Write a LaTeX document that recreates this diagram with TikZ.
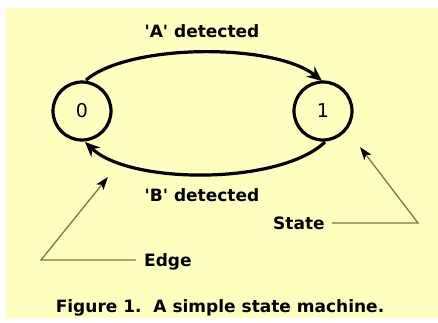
\documentclass[tikz,border=0pt]{standalone}
\usepackage{fontspec}
\setmainfont{DejaVu Sans}
\usetikzlibrary{arrows.meta}
\definecolor{bgyellow}{HTML}{FFFFC0}
\definecolor{pointer}{HTML}{857540}
\begin{document}
\begin{tikzpicture}[x=1pt,y=-1pt,
  state/.style={circle,draw=black,line width=3.2pt,minimum size=58pt,inner sep=0pt,
    font=\fontsize{19}{19}\selectfont},
  lbl/.style={font=\bfseries\fontsize{17}{17}\selectfont,inner sep=0pt},
  edgeline/.style={line width=3.2pt,-{Stealth[length=15pt,width=13pt,inset=5pt]}},
  ptr/.style={draw=pointer,line width=1.3pt},
  ptrarrow/.style={ptr,-{Stealth[length=13pt,width=9pt,inset=3pt,color=black]}}]
\useasboundingbox (0,0) rectangle (438,322);
\fill[white] (0,0) rectangle (438,322);
\fill[bgyellow] (6,8) rectangle (438,318);

\node[state] (s0) at (82,111) {0};
\node[state] (s1) at (323,111) {1};

\coordinate (a0) at (86,80);
\coordinate (a1) at (322,81);
\coordinate (b0) at (325,142);
\coordinate (b1) at (85,142);
\draw[edgeline] (a0) .. controls (130,43) and (275,43) .. (a1);
\draw[edgeline] (b0) .. controls (280,185) and (130,185) .. (b1);

\node[lbl,anchor=base] (la) at (202,37) {\textquotesingle A\textquotesingle\ detected};
\node[lbl,anchor=base] (lb) at (202,201) {\textquotesingle B\textquotesingle\ detected};

\node[lbl,anchor=base west] (edge) at (144,266) {Edge};
\coordinate (e1) at (136,260);
\coordinate (e2) at (41,260);
\coordinate (e3) at (108,177);
\draw[ptrarrow] (e1) -- (e2) -- (e3);

\node[lbl,anchor=base west] (st) at (273,229) {State};
\coordinate (t1) at (332,223);
\coordinate (t2) at (418,223);
\coordinate (t3) at (360,147);
\draw[ptrarrow] (t1) -- (t2) -- (t3);

\node[lbl,anchor=base] (cap) at (220,312) {Figure 1.\ \ A simple state machine.};
\end{tikzpicture}
\end{document}
